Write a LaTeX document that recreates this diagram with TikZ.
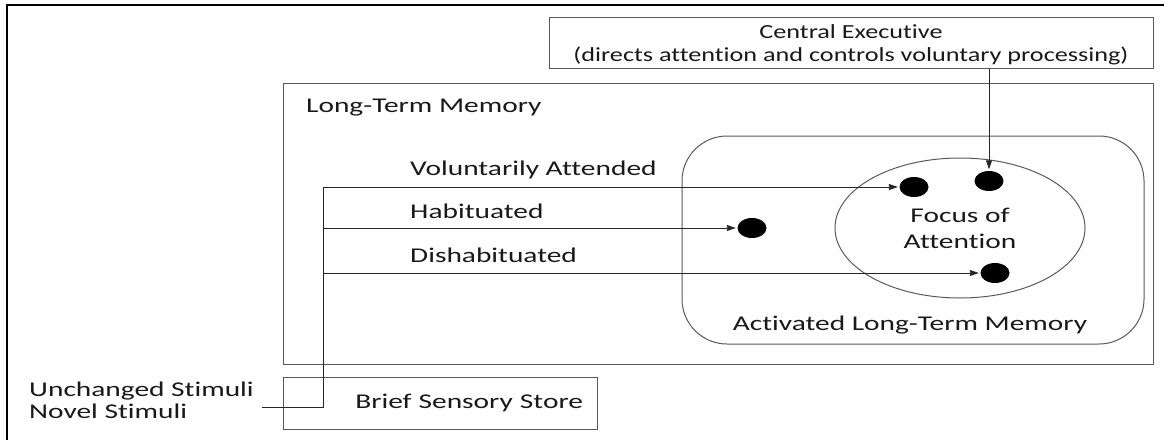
\documentclass[tikz,border=0pt]{standalone}
\usepackage{fontspec}
\setmainfont{Carlito}[FakeStretch=1.40, Ligatures=NoCommon]
\newfontfamily\cefont{Carlito}[FakeStretch=1.31, Ligatures=NoCommon]
\usetikzlibrary{arrows.meta,shapes.geometric}
\begin{document}
\begin{tikzpicture}[x=1pt,y=-1pt,
  txt/.style={font=\fontsize{21pt}{23pt}\selectfont, inner sep=0pt, text=black!90},
  boxline/.style={draw=black!65, line width=1pt},
  panel/.style={boxline, rectangle, inner sep=0pt},
  dot/.style={ellipse, fill=black, draw=none, minimum width=29pt, minimum height=20pt, inner sep=0pt},
  conn/.style={draw=black!85, line width=0.9pt},
  arr/.style={conn, -{Triangle[length=9pt,width=6pt]}, shorten >=1.5pt}
]
\useasboundingbox (0,0) rectangle (1164,439);
% outer frame (only left and top edges visible)
\draw[line width=2.4pt, black] (7,445) -- (7,5) -- (1170,5);

% boxes
\node[panel, minimum width=604pt, minimum height=51pt] (ce) at (851,42.5) {};
\node[txt, anchor=base, align=center, font=\cefont\fontsize{20pt}{23pt}\selectfont] (cetext) at (851,61)
  {Central Executive\\(directs attention and controls voluntary processing)};
\node[panel, minimum width=870pt, minimum height=281pt] (ltm) at (718,223.5) {};
\node[txt, anchor=base west] (ltmlabel) at (306,112) {Long-Term Memory};
\node[panel, minimum width=462pt, minimum height=208pt, rounded corners=45pt] (altm) at (913,240) {};
\node[txt, anchor=base] (altmlabel) at (910,330) {Activated Long-Term Memory};
\node[boxline, ellipse, minimum width=250pt, minimum height=140pt, inner sep=0pt] (foa) at (960,228) {};
\node[txt, anchor=base, align=center, font=\fontsize{21pt}{25.6pt}\selectfont] (foatext) at (960,248.3)
  {Focus of\\Attention};
\node[panel, txt, minimum height=52pt, text width=286pt, inner xsep=14pt, align=right] (bss) at (440,403) {Brief Sensory Store};

% dots
\node[dot] (d1) at (914,187) {};
\node[dot] (d2) at (989,181) {};
\node[dot] (d3) at (752,228) {};
\node[dot] (d4) at (995,273) {};

% labels
\node[txt, anchor=base west] (lva) at (410,175) {Voluntarily Attended};
\node[txt, anchor=base west] (lhab) at (410,218) {Habituated};
\node[txt, anchor=base west] (ldis) at (410,262) {Dishabituated};
\node[txt, anchor=base west] (lunch) at (29,396.5) {Unchanged Stimuli};
\node[txt, anchor=base west] (lnov) at (29,418.5) {Novel Stimuli};

% connectors
\coordinate (stim) at (262,407);
\coordinate (jv) at (323,187);
\draw[arr] (stim) -| (jv) -- (d1.west);
\draw[arr] (jv |- d3) -- (d3.west);
\draw[arr] (jv |- d4) -- (d4.west);
\draw[arr] (ce.south -| d2) -- (d2.north);
\end{tikzpicture}
\end{document}
